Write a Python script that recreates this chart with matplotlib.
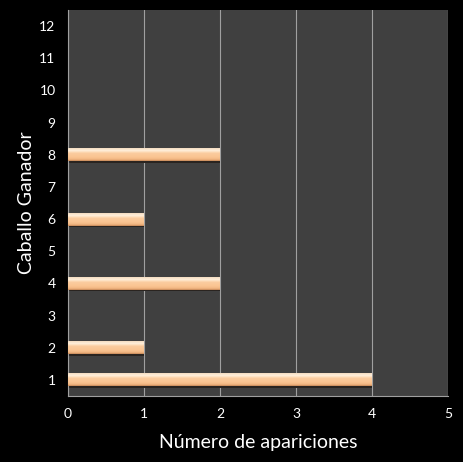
import numpy as np
import matplotlib
matplotlib.use("Agg")
import matplotlib.pyplot as plt
from matplotlib.colors import LinearSegmentedColormap

plt.rcParams['font.family'] = ['Lato', 'DejaVu Sans']

caballos = [1, 2, 3, 4, 5, 6, 7, 8, 9, 10, 11, 12]
apariciones = [4, 1, 0, 2, 0, 1, 0, 2, 0, 0, 0, 0]
xticks = [0, 1, 2, 3, 4, 5]

fig = plt.figure(figsize=(4.63, 4.62), dpi=100, facecolor='black')
ax = fig.add_axes([68 / 463, 1 - 396 / 462, 380 / 463, 386 / 462])
ax.set_facecolor('#404040')

alto = 0.4
# sombra bajo cada barra
ax.barh([c - 0.05 for c in caballos], apariciones, height=alto, color='#2a2420', zorder=2)
bars = ax.barh(caballos, apariciones, height=alto, color='#fac492', zorder=3)

gradiente = LinearSegmentedColormap.from_list(
    'melocoton',
    [(0.0, '#c48656'), (0.12, '#f2b682'), (0.3, '#fac492'), (0.6, '#fbcc9e'),
     (0.82, '#fff0dc'), (1.0, '#f4dcc0')])
grad = np.linspace(0, 1, 64).reshape(-1, 1)
for bar in bars:
    x0, y0 = bar.get_x(), bar.get_y()
    w, h = bar.get_width(), bar.get_height()
    if w <= 0:
        continue
    im = ax.imshow(grad, cmap=gradiente, origin='lower', aspect='auto',
                   extent=[x0, x0 + w, y0, y0 + h], zorder=4)
    im.set_clip_path(bar)

ax.set_xlim(0, 5)
ax.set_ylim(0.5, 12.5)
ax.set_aspect('auto')
ax.set_xticks(xticks)
ax.set_yticks(caballos)
ax.xaxis.grid(True, color='#a0a0a0', linewidth=0.8, zorder=1)
ax.set_axisbelow(True)
ax.tick_params(colors='white', labelsize=10, length=0, pad=9)
for lado in ['top', 'right']:
    ax.spines[lado].set_visible(False)
for lado in ['left', 'bottom']:
    ax.spines[lado].set_color('#a0a0a0')
    ax.spines[lado].set_linewidth(0.8)

ax.set_xlabel('Número de apariciones', color='white', fontsize=14, labelpad=10)
ax.set_ylabel('Caballo Ganador', color='white', fontsize=14, labelpad=3)

fig.savefig('out.png', dpi=100, facecolor='black')
